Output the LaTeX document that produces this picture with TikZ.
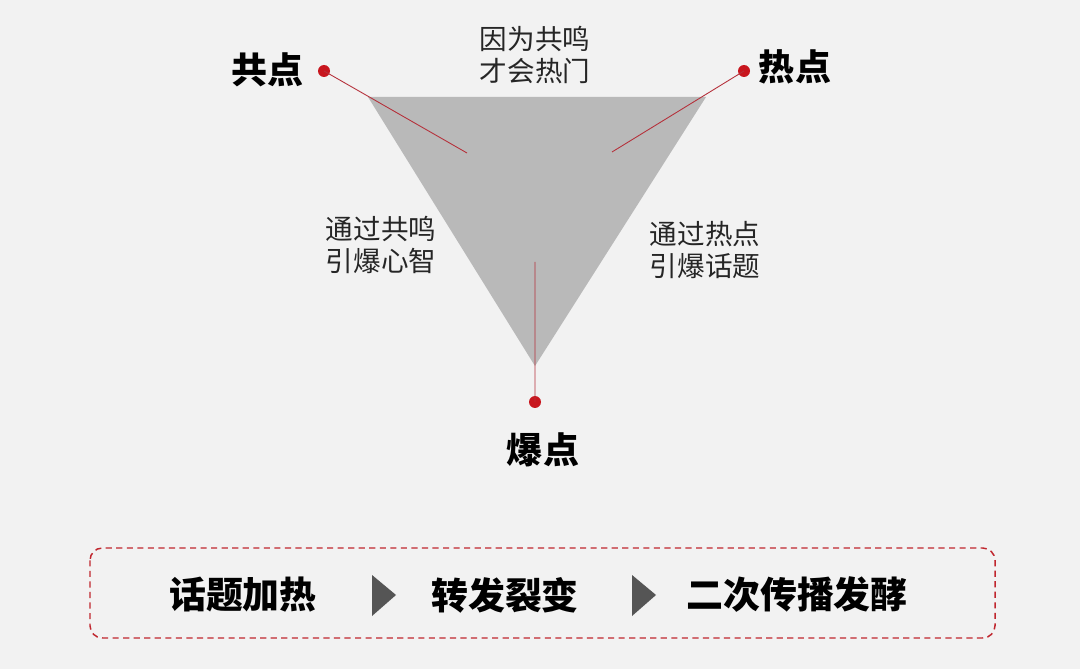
\documentclass[tikz,border=0pt]{standalone}
\usepackage{fontspec}
\setmainfont{Noto Sans CJK SC}
\usetikzlibrary{positioning}
\definecolor{bggray}{HTML}{F2F2F2}
\definecolor{trigray}{HTML}{B9B9B9}
\definecolor{dotred}{HTML}{C8161E}
\definecolor{linered}{HTML}{B5303A}
\definecolor{boxred}{HTML}{C0262E}
\definecolor{arrgray}{HTML}{555555}
\tikzset{
	dot/.style={circle,fill=dotred,inner sep=0pt,minimum size=0.24cm},
	keyword/.style={font=\fontsize{20.5}{24}\selectfont\bfseries,text=black},
	note/.style={font=\fontsize{15.7}{18.2}\selectfont,align=center,text=black!85},
	stage/.style={font=\fontsize{21}{24}\selectfont\bfseries,text=black},
	pin/.style={draw=linered,line width=0.5pt}
}
\begin{document}
\begin{tikzpicture}[x=0.02cm,y=-0.02cm]
			\fill[bggray] (0,0) rectangle (1080,669);
			\useasboundingbox (0,0) rectangle (1080,669);
			% triangle
			\fill[trigray] (368,97)--(706,97)--(535,366)--cycle;
			% dots and labels
			\node[dot] (gong) at (324,71) {};
			\node[dot] (re) at (744,71) {};
			\node[dot] (bao) at (535,402) {};
			\coordinate (gongend) at (467,153);
			\coordinate (reend) at (612,152);
			\coordinate (baoend) at (535,262);
			\draw[pin] (gong.center)--(gongend) (re.center)--(reend) (bao.center)--(baoend);
			\node[keyword] (gonglbl) at (268,70) {共点};
			\node[keyword] (relbl) at (795,67) {热点};
			\node[keyword] (baolbl) at (543,450) {爆点};
			\node[note] (top) at (535,55) {因为共鸣\\才会热门};
			\node[note] (left) at (381,245) {通过共鸣\\引爆心智};
			\node[note] (right) at (705,250) {通过热点\\引爆话题};
			% bottom box
			\draw[boxred,line width=0.85pt,dash pattern=on 3.5pt off 2.5pt,rounded corners=7pt] (90,548) rectangle (995,638);
			\node[stage] (s1) at (243,595) {话题加热};
			\node[stage] (s2) at (505,595) {转发裂变};
			\node[stage] (s3) at (797,595) {二次传播发酵};
			\fill[arrgray] (372,575)--(396,595)--(372,616)--cycle (632,575)--(656,595)--(632,616)--cycle;
		\end{tikzpicture}
\end{document}
